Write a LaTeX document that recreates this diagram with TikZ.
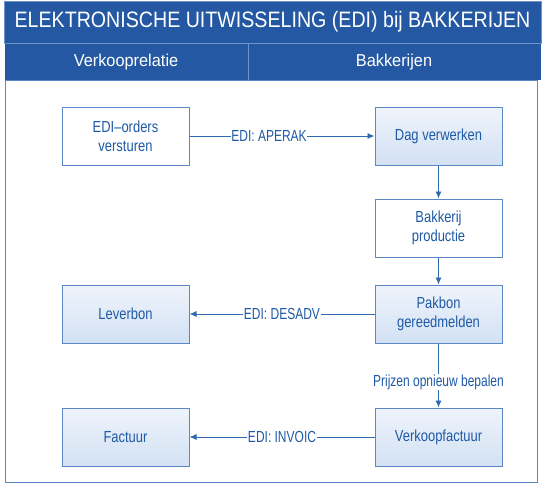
\documentclass[tikz,border=0pt]{standalone}
\usepackage{fontspec}
\setmainfont{Liberation Sans}[FakeStretch=0.81]
\newfontfamily\titlefont{Liberation Sans}[FakeStretch=0.88]
\newfontfamily\headfont{Liberation Sans}[FakeStretch=0.95]
\newfontfamily\labelfont{Liberation Sans}[FakeStretch=0.75]
\usetikzlibrary{arrows.meta}

\definecolor{barblue}{HTML}{2458A3}
\definecolor{barline}{HTML}{6F93C8}
\definecolor{edgeblue}{HTML}{2F6AB0}
\definecolor{textblue}{HTML}{1F5AA6}
\definecolor{boxline}{HTML}{5B87C5}
\definecolor{boxtop}{HTML}{EFF4FB}
\definecolor{boxbot}{HTML}{D2E1F4}

\tikzset{
  stage/.style={draw=boxline,line width=1pt,minimum width=127pt,minimum height=58pt,
    align=center,text=textblue,font=\fontsize{16}{19}\selectfont,inner sep=2pt},
  shaded/.style={stage,top color=boxtop,bottom color=boxbot},
  plain/.style={stage,fill=white},
  flow/.style={draw=edgeblue,line width=0.9pt,-{Latex[length=7pt,width=6pt]}},
  msg/.style={fill=white,text=textblue,font=\labelfont\fontsize{16}{18}\selectfont,inner sep=0.5pt}
}

\begin{document}
\begin{tikzpicture}[x=1pt,y=-1pt]
\useasboundingbox (0,0) rectangle (544,485);
% title and column heads
\fill[barblue] (4.5,1) rectangle (541,80);
\draw[barline,line width=0.8pt] (4.5,1) rectangle (541,43.5);
\draw[barline,line width=0.8pt] (248,43.5) -- (248,80);
\draw[boxline,line width=1pt] (5.5,80) rectangle (537,482);
\node[text=white,font=\titlefont\fontsize{22.3}{24}\selectfont] (title) at (272.5,22) {ELEKTRONISCHE UITWISSELING (EDI) bij BAKKERIJEN};
\node[text=white,font=\headfont\fontsize{17.2}{19}\selectfont] (koper) at (126,62) {Verkooprelatie};
\node[text=white,font=\headfont\fontsize{17.2}{19}\selectfont] (bakker) at (394,62) {Bakkerijen};
% stages
\node[plain] (orders) at (125.5,136) {EDI--orders\\versturen};
\node[shaded] (dag) at (438.5,136) {Dag verwerken};
\node[plain] (prod) at (438.5,228) {Bakkerij\\productie};
\node[shaded] (pakbon) at (438.5,314) {Pakbon\\gereedmelden};
\node[shaded] (lever) at (125.5,314) {Leverbon};
\node[shaded] (verkoop) at (438.5,437) {Verkoopfactuur};
\node[shaded] (factuur) at (125.5,437) {Factuur};
% connectors
\draw[flow] (orders) -- node[msg,pos=0.43]{EDI: APERAK} (dag);
\draw[flow] (dag) -- (prod);
\draw[flow] (prod) -- (pakbon);
\draw[flow] (pakbon) -- node[msg]{EDI: DESADV} (lever);
\draw[flow] (pakbon) -- node[msg,pos=0.6]{Prijzen opnieuw bepalen} (verkoop);
\draw[flow] (verkoop) -- node[msg]{EDI: INVOIC} (factuur);
\end{tikzpicture}
\end{document}
